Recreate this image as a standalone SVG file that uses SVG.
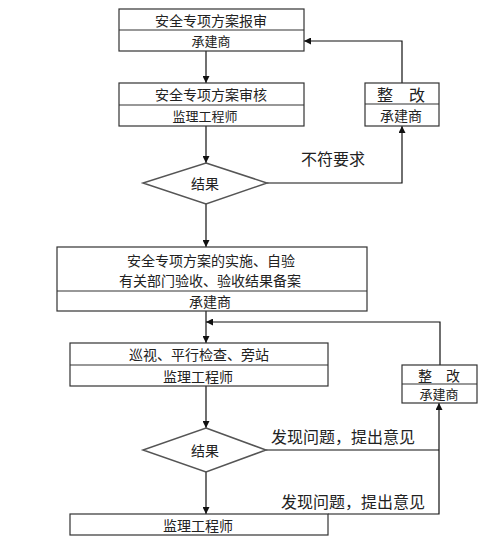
<svg xmlns="http://www.w3.org/2000/svg" width="489" height="543" viewBox="0 0 489 543">
<style>
.box{fill:#fff;stroke:#333;stroke-width:1.2}
.div{stroke:#333;stroke-width:1.2}
.dia{fill:#fff;stroke:#555;stroke-width:1.5}
.ln{fill:none;stroke:#111;stroke-width:1.2}
text{font-family:"Noto Sans CJK SC","Noto Sans",sans-serif;fill:#222;text-anchor:middle;dominant-baseline:central}
.t14{font-size:14px}
.t13{font-size:13px}
.t16{font-size:16px}
</style>
<defs>
<marker id="arr" viewBox="0 0 10 10" refX="10" refY="5" markerWidth="7" markerHeight="7" markerUnits="userSpaceOnUse" orient="auto">
<path d="M0,0 L10,5 L0,10 z" fill="#111"/>
</marker>
</defs>
<rect width="489" height="543" fill="#fff"/>
<g id="connectors">
<path class="ln" d="M206,51 V83" marker-end="url(#arr)"/>
<path class="ln" d="M206,126 V163" marker-end="url(#arr)"/>
<path class="ln" d="M267,183 H402 V126" marker-end="url(#arr)"/>
<path class="ln" d="M402,83 V41 H304" marker-end="url(#arr)"/>
<path class="ln" d="M206,204 V247" marker-end="url(#arr)"/>
<path class="ln" d="M206,311 V343" marker-end="url(#arr)"/>
<path class="ln" d="M440,365 V322 H206" marker-end="url(#arr)"/>
<path class="ln" d="M206,386 V428" marker-end="url(#arr)"/>
<path class="ln" d="M266,450 H439"/>
<path class="ln" d="M328,514 H439 V403" marker-end="url(#arr)"/>
<path class="ln" d="M206,472 V514" marker-end="url(#arr)"/>
<text class="t16" x="333" y="158">不符要求</text>
<text class="t16" x="343" y="436">发现问题，提出意见</text>
<text class="t16" x="353" y="501">发现问题，提出意见</text>
</g>
<g id="box1">
<rect class="box" x="119" y="9" width="185" height="42"/>
<line class="div" x1="119" y1="30" x2="304" y2="30"/>
<text class="t14" x="211" y="19.5">安全专项方案报审</text>
<text class="t13" x="211" y="40.5">承建商</text>
</g>
<g id="box2">
<rect class="box" x="119" y="83" width="185" height="43"/>
<line class="div" x1="119" y1="105" x2="304" y2="105"/>
<text class="t14" x="211" y="94">安全专项方案审核</text>
<text class="t13" x="205" y="115.5">监理工程师</text>
</g>
<g id="fix1">
<rect class="box" x="365" y="83" width="74" height="43"/>
<line class="div" x1="365" y1="104" x2="439" y2="104"/>
<text class="t16" x="401" y="93.5">整　改</text>
<text class="t14" x="401" y="115">承建商</text>
</g>
<g id="decision1">
<polygon class="dia" points="206,163 267,183 206,204 143,183"/>
<text class="t14" x="205" y="183">结果</text>
</g>
<g id="box3">
<rect class="box" x="57" y="247" width="310" height="64"/>
<line class="div" x1="57" y1="291" x2="367" y2="291"/>
<text class="t14" x="211" y="260">安全专项方案的实施、自验</text>
<text class="t14" x="210" y="280">有关部门验收、验收结果备案</text>
<text class="t14" x="210" y="301">承建商</text>
</g>
<g id="box4">
<rect class="box" x="70" y="343" width="258" height="43"/>
<line class="div" x1="70" y1="365" x2="328" y2="365"/>
<text class="t14" x="199" y="354">巡视、平行检查、旁站</text>
<text class="t14" x="198" y="375.5">监理工程师</text>
</g>
<g id="fix2">
<rect class="box" x="402" y="365" width="75" height="38"/>
<line class="div" x1="402" y1="384" x2="477" y2="384"/>
<text class="t14" x="439" y="374.5">整　改</text>
<text class="t13" x="439" y="393.5">承建商</text>
</g>
<g id="decision2">
<polygon class="dia" points="206,428 266,450 206,472 143,450"/>
<text class="t14" x="205" y="450">结果</text>
</g>
<g id="box5">
<rect class="box" x="70" y="514" width="258" height="21"/>
<text class="t14" x="198" y="524.5">监理工程师</text>
</g>
</svg>
